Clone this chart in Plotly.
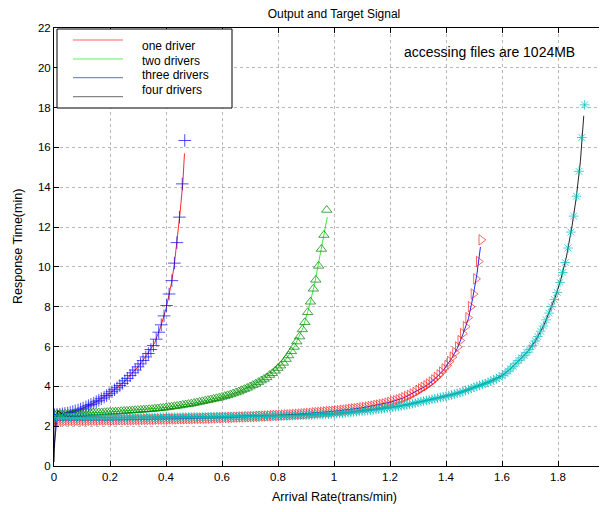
import plotly.graph_objects as go

# ---------------- data ----------------
# Curve 1: blue "+" targets, red output line
c1_x = [0.002, 0.011, 0.021, 0.030, 0.039, 0.049, 0.058, 0.067, 0.076, 0.086,
        0.095, 0.104, 0.114, 0.123, 0.132, 0.142, 0.151, 0.160, 0.169, 0.179,
        0.188, 0.197, 0.207, 0.216, 0.225, 0.235, 0.244, 0.253, 0.262, 0.272,
        0.281, 0.290, 0.300, 0.309, 0.318, 0.328, 0.337, 0.346, 0.355, 0.365,
        0.374, 0.383, 0.393, 0.402, 0.411, 0.421, 0.430, 0.439, 0.448, 0.458,
        0.467]
c1_y = [2.58, 2.59, 2.60, 2.62, 2.64, 2.66, 2.69, 2.73, 2.77, 2.81,
        2.86, 2.91, 2.97, 3.03, 3.09, 3.16, 3.23, 3.30, 3.38, 3.46,
        3.54, 3.63, 3.73, 3.83, 3.93, 4.04, 4.15, 4.28, 4.40, 4.54,
        4.68, 4.82, 4.98, 5.13, 5.30, 5.48, 5.65, 5.85, 6.05, 6.37,
        6.72, 7.09, 7.54, 8.06, 8.64, 9.31, 10.19, 11.22, 12.50, 14.17,
        16.35]
c1_out_x = [0, 0.01, 0.05, 0.1, 0.15, 0.2, 0.25, 0.3, 0.33, 0.36, 0.38, 0.40,
            0.41, 0.42, 0.43, 0.44, 0.45, 0.46, 0.466]
c1_out_y = [2.25, 2.56, 2.66, 2.88, 3.22, 3.66, 4.22, 4.98, 5.55, 6.2, 6.95, 7.9,
            8.55, 9.22, 10.15, 11.3, 12.7, 14.2, 15.7]

# Curve 2: green triangle targets, green output line
c2_x = [0.00, 0.01, 0.02, 0.03, 0.04, 0.05, 0.06, 0.07, 0.08, 0.09,
        0.10, 0.11, 0.12, 0.13, 0.14, 0.15, 0.16, 0.17, 0.18, 0.19,
        0.20, 0.21, 0.22, 0.23, 0.24, 0.25, 0.26, 0.27, 0.28, 0.29,
        0.30, 0.31, 0.32, 0.33, 0.34, 0.35, 0.36, 0.37, 0.38, 0.39,
        0.40, 0.41, 0.42, 0.43, 0.44, 0.45, 0.46, 0.47, 0.48, 0.49,
        0.50, 0.51, 0.52, 0.53, 0.54, 0.55, 0.56, 0.57, 0.58, 0.59,
        0.60, 0.61, 0.62, 0.63, 0.64, 0.65, 0.66, 0.67, 0.68, 0.69,
        0.70, 0.71, 0.72, 0.73, 0.74, 0.75, 0.76,
        0.770, 0.780, 0.790, 0.800, 0.809, 0.819, 0.829, 0.838, 0.848, 0.858,
        0.867, 0.877, 0.887, 0.896, 0.906, 0.916, 0.926, 0.935, 0.945, 0.955,
        0.964, 0.974]
c2_y = [2.60, 2.60, 2.61, 2.61, 2.62, 2.62, 2.63, 2.63, 2.64, 2.64,
        2.65, 2.65, 2.66, 2.67, 2.68, 2.68, 2.69, 2.69, 2.70, 2.71,
        2.72, 2.72, 2.73, 2.74, 2.75, 2.76, 2.77, 2.78, 2.79, 2.80,
        2.81, 2.82, 2.83, 2.84, 2.85, 2.86, 2.88, 2.89, 2.91, 2.92,
        2.94, 2.96, 2.98, 3.00, 3.02, 3.04, 3.07, 3.09, 3.11, 3.13,
        3.16, 3.19, 3.22, 3.25, 3.28, 3.31, 3.34, 3.37, 3.40, 3.43,
        3.47, 3.51, 3.55, 3.59, 3.64, 3.69, 3.74, 3.80, 3.86, 3.92,
        3.99, 4.06, 4.13, 4.21, 4.29, 4.37, 4.45,
        4.57, 4.66, 4.78, 4.92, 5.04, 5.18, 5.37, 5.55, 5.76, 5.98,
        6.25, 6.50, 6.86, 7.22, 7.72, 8.25, 8.90, 9.35, 10.05, 10.90,
        11.60, 12.86]
c2_out_x = [0, 0.01, 0.2, 0.4, 0.5, 0.6, 0.65, 0.7, 0.75, 0.8, 0.83, 0.86,
            0.89, 0.91, 0.93, 0.95, 0.965, 0.976]
c2_out_y = [2.45, 2.6, 2.72, 2.94, 3.16, 3.47, 3.69, 3.99, 4.37, 4.92, 5.39, 6.04,
            6.97, 7.93, 9.1, 10.5, 11.7, 12.5]

# Curve 3: red right-triangle targets, blue output line
c3_x = [0.00, 0.01, 0.02, 0.03, 0.04, 0.05, 0.06, 0.07, 0.08, 0.09,
        0.10, 0.11, 0.12, 0.13, 0.14, 0.15, 0.16, 0.17, 0.18, 0.19,
        0.20, 0.21, 0.22, 0.23, 0.24, 0.25, 0.26, 0.27, 0.28, 0.29,
        0.30, 0.31, 0.32, 0.33, 0.34, 0.35, 0.36, 0.37, 0.38, 0.39,
        0.40, 0.41, 0.42, 0.43, 0.44, 0.45, 0.46, 0.47, 0.48, 0.49,
        0.50, 0.51, 0.52, 0.53, 0.54, 0.55, 0.56, 0.57, 0.58, 0.59,
        0.60, 0.61, 0.62, 0.63, 0.64, 0.65, 0.66, 0.67, 0.68, 0.69,
        0.70, 0.71, 0.72, 0.73, 0.74, 0.75, 0.76, 0.77, 0.78, 0.79,
        0.80, 0.81, 0.82, 0.83, 0.84, 0.85, 0.86, 0.87, 0.88, 0.89,
        0.90, 0.91, 0.92, 0.93, 0.94, 0.95, 0.96, 0.97, 0.98, 0.99,
        1.00, 1.01, 1.02, 1.03, 1.04, 1.05, 1.06, 1.07, 1.08, 1.09,
        1.10, 1.11, 1.12, 1.13, 1.14, 1.15, 1.16, 1.17, 1.18, 1.19,
        1.20, 1.21, 1.22, 1.23, 1.24, 1.25, 1.26, 1.27, 1.28, 1.29,
        1.301, 1.310, 1.319, 1.329, 1.338, 1.348, 1.357, 1.366, 1.376, 1.385,
        1.394, 1.404, 1.413, 1.423, 1.432, 1.442, 1.451, 1.460, 1.470, 1.479,
        1.488, 1.498, 1.507, 1.517, 1.526]
c3_y = [2.28, 2.28, 2.28, 2.28, 2.28, 2.29, 2.29, 2.29, 2.29, 2.29,
        2.29, 2.29, 2.29, 2.30, 2.30, 2.30, 2.30, 2.31, 2.31, 2.31,
        2.31, 2.31, 2.31, 2.32, 2.32, 2.32, 2.32, 2.32, 2.32, 2.33,
        2.33, 2.33, 2.33, 2.34, 2.34, 2.34, 2.34, 2.35, 2.35, 2.35,
        2.35, 2.36, 2.36, 2.36, 2.36, 2.37, 2.37, 2.37, 2.37, 2.38,
        2.38, 2.39, 2.39, 2.39, 2.39, 2.40, 2.40, 2.41, 2.41, 2.42,
        2.42, 2.43, 2.43, 2.44, 2.44, 2.45, 2.45, 2.46, 2.46, 2.47,
        2.47, 2.48, 2.48, 2.49, 2.50, 2.51, 2.51, 2.52, 2.53, 2.54,
        2.54, 2.55, 2.56, 2.57, 2.57, 2.58, 2.59, 2.60, 2.61, 2.62,
        2.63, 2.64, 2.65, 2.67, 2.68, 2.69, 2.70, 2.72, 2.73, 2.74,
        2.75, 2.77, 2.78, 2.80, 2.81, 2.83, 2.85, 2.87, 2.88, 2.90,
        2.92, 2.94, 2.96, 2.99, 3.01, 3.04, 3.06, 3.09, 3.12, 3.16,
        3.20, 3.24, 3.28, 3.32, 3.37, 3.43, 3.49, 3.55, 3.62, 3.70,
        3.80, 3.87, 3.95, 4.03, 4.12, 4.22, 4.33, 4.45, 4.58, 4.72,
        4.88, 5.05, 5.25, 5.47, 5.70, 5.98, 6.30, 6.65, 7.00, 7.45,
        8.00, 8.64, 9.40, 10.27, 11.36]
c3_out_x = [0, 0.01, 0.2, 0.4, 0.6, 0.8, 0.9, 1.0, 1.1, 1.15, 1.2, 1.25, 1.3,
            1.33, 1.36, 1.39, 1.42, 1.44, 1.46, 1.48, 1.495, 1.51, 1.523]
c3_out_y = [0.9, 2.3, 2.31, 2.35, 2.42, 2.54, 2.63, 2.75, 2.92, 3.05, 3.2, 3.43, 3.78,
            4.03, 4.37, 4.8, 5.4, 5.9, 6.6, 7.4, 8.4, 9.6, 11.0]

# Curve 4: cyan asterisk targets, black output line
c4_x = [0.00, 0.01, 0.02, 0.03, 0.04, 0.05, 0.06, 0.07, 0.08, 0.09,
        0.10, 0.11, 0.12, 0.13, 0.14, 0.15, 0.16, 0.17, 0.18, 0.19,
        0.20, 0.21, 0.22, 0.23, 0.24, 0.25, 0.26, 0.27, 0.28, 0.29,
        0.30, 0.31, 0.32, 0.33, 0.34, 0.35, 0.36, 0.37, 0.38, 0.39,
        0.40, 0.41, 0.42, 0.43, 0.44, 0.45, 0.46, 0.47, 0.48, 0.49,
        0.50, 0.51, 0.52, 0.53, 0.54, 0.55, 0.56, 0.57, 0.58, 0.59,
        0.60, 0.61, 0.62, 0.63, 0.64, 0.65, 0.66, 0.67, 0.68, 0.69,
        0.70, 0.71, 0.72, 0.73, 0.74, 0.75, 0.76, 0.77, 0.78, 0.79,
        0.80, 0.81, 0.82, 0.83, 0.84, 0.85, 0.86, 0.87, 0.88, 0.89,
        0.90, 0.91, 0.92, 0.93, 0.94, 0.95, 0.96, 0.97, 0.98, 0.99,
        1.00, 1.01, 1.02, 1.03, 1.04, 1.05, 1.06, 1.07, 1.08, 1.09,
        1.10, 1.11, 1.12, 1.13, 1.14, 1.15, 1.16, 1.17, 1.18, 1.19,
        1.20, 1.21, 1.22, 1.23, 1.24, 1.25, 1.26, 1.27, 1.28, 1.29,
        1.30, 1.31, 1.32, 1.33, 1.34, 1.35, 1.36, 1.37, 1.38, 1.39,
        1.40, 1.41, 1.42, 1.43, 1.44, 1.45, 1.46, 1.47, 1.48, 1.49,
        1.50, 1.51, 1.52, 1.53, 1.54, 1.55, 1.56, 1.57, 1.58, 1.59,
        1.601, 1.611, 1.621, 1.630, 1.640, 1.650, 1.660, 1.670, 1.679, 1.689,
        1.699, 1.709, 1.719, 1.728, 1.738, 1.748, 1.758, 1.768, 1.777, 1.787,
        1.797, 1.807, 1.817, 1.826, 1.836, 1.846, 1.856, 1.866, 1.875, 1.885,
        1.895]
c4_y = [2.42, 2.42, 2.42, 2.42, 2.42, 2.42, 2.42, 2.42, 2.42, 2.42,
        2.42, 2.42, 2.42, 2.42, 2.43, 2.43, 2.43, 2.43, 2.43, 2.43,
        2.43, 2.43, 2.43, 2.43, 2.43, 2.43, 2.43, 2.43, 2.44, 2.44,
        2.44, 2.44, 2.44, 2.44, 2.44, 2.44, 2.44, 2.44, 2.45, 2.45,
        2.45, 2.45, 2.45, 2.45, 2.45, 2.45, 2.46, 2.46, 2.46, 2.46,
        2.46, 2.46, 2.46, 2.46, 2.47, 2.47, 2.47, 2.47, 2.47, 2.47,
        2.48, 2.48, 2.48, 2.48, 2.48, 2.48, 2.49, 2.49, 2.49, 2.49,
        2.50, 2.50, 2.50, 2.50, 2.51, 2.51, 2.51, 2.51, 2.52, 2.52,
        2.52, 2.52, 2.53, 2.53, 2.53, 2.53, 2.54, 2.54, 2.55, 2.55,
        2.55, 2.56, 2.56, 2.57, 2.57, 2.58, 2.58, 2.59, 2.60, 2.61,
        2.62, 2.63, 2.64, 2.65, 2.67, 2.68, 2.70, 2.71, 2.73, 2.74,
        2.76, 2.77, 2.79, 2.80, 2.82, 2.83, 2.85, 2.87, 2.89, 2.91,
        2.93, 2.95, 2.97, 2.99, 3.02, 3.04, 3.07, 3.10, 3.13, 3.16,
        3.20, 3.23, 3.26, 3.29, 3.32, 3.35, 3.38, 3.41, 3.44, 3.47,
        3.51, 3.54, 3.57, 3.61, 3.65, 3.69, 3.74, 3.79, 3.84, 3.89,
        3.95, 4.00, 4.05, 4.10, 4.15, 4.20, 4.26, 4.32, 4.39, 4.46,
        4.54, 4.64, 4.76, 4.88, 5.01, 5.16, 5.30, 5.43, 5.56, 5.70,
        5.86, 6.06, 6.28, 6.50, 6.77, 7.03, 7.34, 7.68, 8.00, 8.36,
        8.72, 9.22, 9.72, 10.22, 10.95, 11.75, 12.55, 13.55, 14.80, 16.50,
        18.14]
c4_out_x = [0, 0.005, 0.014, 0.04, 0.2, 0.6, 1.0, 1.1, 1.2, 1.3, 1.4, 1.45,
            1.5, 1.55, 1.6, 1.63, 1.66, 1.69, 1.72, 1.75, 1.77, 1.79, 1.81,
            1.83, 1.85, 1.865, 1.88, 1.892]
c4_out_y = [0.2, 2.3, 2.78, 2.5, 2.43, 2.48, 2.62, 2.76, 2.93, 3.20, 3.51, 3.69,
            3.95, 4.20, 4.54, 4.88, 5.30, 5.72, 6.30, 7.08, 7.78, 8.47, 9.37,
            10.5, 12.05, 13.45, 15.3, 17.59]

legend_labels = ["one driver", "two drivers", "three drivers", "four drivers"]
x_ticks = [0, 0.2, 0.4, 0.6, 0.8, 1.0, 1.2, 1.4, 1.6, 1.8]
x_tick_text = ["0", "0.2", "0.4", "0.6", "0.8", "1", "1.2", "1.4", "1.6", "1.8"]
y_ticks = [0, 2, 4, 6, 8, 10, 12, 14, 16, 18, 20, 22]

# ---------------- figure ----------------
FONT = "Liberation Sans, Arial, Helvetica, sans-serif"
fig = go.Figure()

curves = [
    (c1_x, c1_y, c1_out_x, c1_out_y, "cross-thin-open", 9, "rgba(0,0,255,0.7)", "rgba(255,0,0,0.85)"),
    (c2_x, c2_y, c2_out_x, c2_out_y, "triangle-up-open", 9, "rgba(0,135,0,0.72)", "rgba(40,230,40,0.9)"),
    (c3_x, c3_y, c3_out_x, c3_out_y, "triangle-right-open", 9, "rgba(255,0,0,0.6)", "rgba(0,0,255,0.85)"),
    (c4_x, c4_y, c4_out_x, c4_out_y, "asterisk-open", 8, "rgba(0,190,190,0.7)", "rgba(0,0,0,0.85)"),
]
for mx, my, lx, ly, sym, size, mcol, lcol in curves:
    fig.add_trace(go.Scatter(x=lx, y=ly, mode="lines", showlegend=False,
                             line=dict(color=lcol, width=1)))
    fig.add_trace(go.Scatter(x=mx, y=my, mode="markers", showlegend=False,
                             marker=dict(symbol=sym, size=size, color=mcol,
                                         line=dict(color=mcol, width=1))))

axis_common = dict(showgrid=True, griddash="dot", gridcolor="#b8b8b8", gridwidth=1,
                   ticks="inside", ticklen=5, tickcolor="black",
                   showline=True, linecolor="black", linewidth=1, zeroline=False,
                   tickfont=dict(family=FONT, size=11.5, color="black"))
fig.update_xaxes(range=[0, 2.0], tickvals=x_ticks, ticktext=x_tick_text,
                 mirror="ticks", **axis_common)
fig.update_yaxes(range=[0, 22], tickvals=y_ticks, mirror=False, **axis_common)

# page places the figure 8px in from the top-left; positions below are in page pixels
def px_x(p):
    return (p - 54) / 560.0

def px_y(p):
    return (466 - p) / 438.0

shapes = [dict(type="rect", xref="paper", yref="paper",
               x0=px_x(57), x1=px_x(232), y0=px_y(108), y1=px_y(29),
               line=dict(color="black", width=1), fillcolor="white", layer="above")]
leg_colors = ["rgba(255,80,80,0.9)", "rgba(80,235,80,0.9)", "rgba(80,80,255,0.9)", "rgba(90,90,90,0.9)"]
leg_line_y = [40, 59, 77.7, 96.7]
leg_text_y = [46, 61, 75, 90]
annotations = []
for lab, col, ly, ty in zip(legend_labels, leg_colors, leg_line_y, leg_text_y):
    shapes.append(dict(type="line", xref="paper", yref="paper",
                       x0=px_x(73), x1=px_x(123), y0=px_y(ly), y1=px_y(ly),
                       line=dict(color=col, width=1), layer="above"))
    annotations.append(dict(text=lab, xref="paper", yref="paper", x=px_x(140), y=px_y(ty),
                            xanchor="left", yanchor="middle", showarrow=False,
                            font=dict(family=FONT, size=12, color="black")))

annotations.append(dict(text="accessing files are 1024MB", xref="paper", yref="paper",
                        x=px_x(489), y=px_y(52), xanchor="center", yanchor="middle",
                        showarrow=False, font=dict(family=FONT, size=14, color="black")))
annotations.append(dict(text="Arrival Rate(trans/min)", xref="paper", yref="paper",
                        x=px_x(334), y=px_y(497), xanchor="center", yanchor="middle",
                        showarrow=False, font=dict(family=FONT, size=12.5, color="black")))
annotations.append(dict(text="Response Time(min)", xref="paper", yref="paper",
                        x=px_x(18), y=px_y(247), xanchor="center", yanchor="middle",
                        textangle=-90, showarrow=False,
                        font=dict(family=FONT, size=12.5, color="black")))

fig.update_layout(
    width=607, height=512,
    margin=dict(l=46, r=1, t=20, b=54),
    paper_bgcolor="white", plot_bgcolor="white",
    title=dict(text="Output and Target Signal", x=px_x(334), xref="paper",
               y=1 - 6 / 512, yref="container", xanchor="center", yanchor="middle",
               font=dict(family=FONT, size=12, color="black")),
    shapes=shapes, annotations=annotations, showlegend=False,
)

fig.write_html("out.html")
